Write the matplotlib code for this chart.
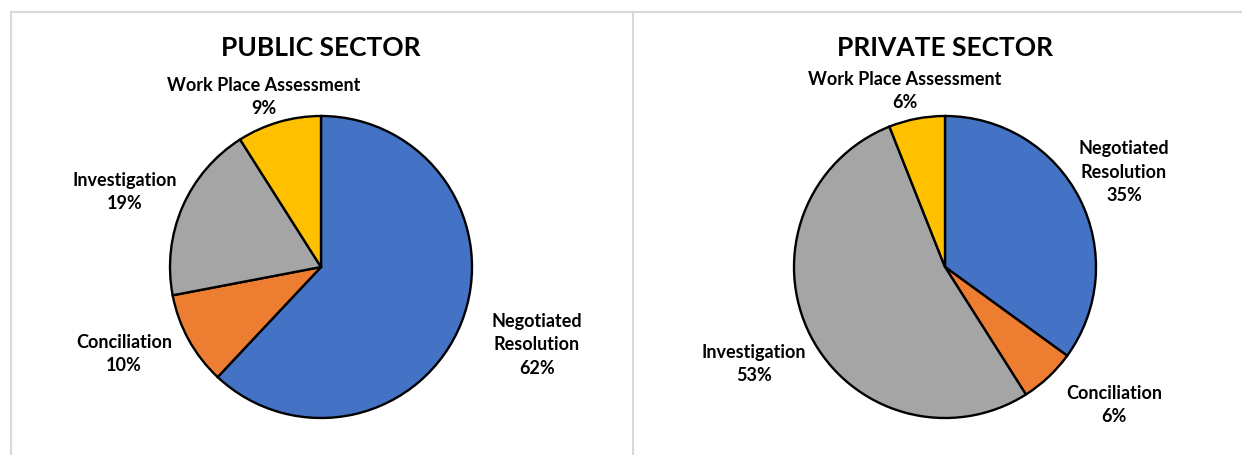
import numpy as np
import matplotlib.pyplot as plt
from matplotlib.lines import Line2D

plt.rcParams['font.family'] = ['Lato', 'DejaVu Sans']

# data
categories = ['Negotiated\nResolution', 'Conciliation', 'Investigation', 'Work Place Assessment']
public_vals = [62, 10, 19, 9]
private_vals = [35, 6, 53, 6]
colours = ['#4472C4', '#ED7D31', '#A5A5A5', '#FFC000']

W, H = 1242, 455
fig = plt.figure(figsize=(W / 100, H / 100), dpi=100)

# label block centres in pixels (public, private)
pub_lab = [(537, 345), (124, 354), (125, 192), (264, 97)]
priv_lab = [(1124, 172), (1114, 405), (754, 364), (905, 91)]


def draw_pie(x0, x1, cx, cy, R, vals, title, labpos):
    ax = fig.add_axes([x0 / W, 0, (x1 - x0) / W, 1])
    ax.pie(vals, colors=colours, startangle=90, counterclock=False,
           wedgeprops=dict(edgecolor='black', linewidth=1.7))
    ax.set_aspect('auto')
    ax.set_xlim((x0 - cx) / R, (x1 - cx) / R)
    ax.set_ylim((cy - H) / R, cy / R)
    ax.axis('off')
    for name, v, (px, py) in zip(categories, vals, labpos):
        ax.text((px - cx) / R, (cy - py) / R, f'{name}\n{v}%', ha='center', va='center',
                fontsize=13, fontweight='bold', linespacing=1.45)
    ax.text(0, (cy - 48) / R, title, ha='center', va='center', fontsize=19, fontweight='bold')


draw_pie(12, 632, 321, 267, 151, public_vals, 'PUBLIC SECTOR', pub_lab)
draw_pie(635, 1242, 945, 267, 151, private_vals, 'PRIVATE SECTOR', priv_lab)

# panel borders
gc = '#D9D9D9'
for xs, ys in [([11, 1242], [12, 12]), ([11, 11], [12, 455]), ([633, 633], [12, 455])]:
    fig.add_artist(Line2D([x / W for x in xs], [1 - y / H for y in ys], color=gc, lw=1.5))

fig.savefig('out.png', dpi=100)
